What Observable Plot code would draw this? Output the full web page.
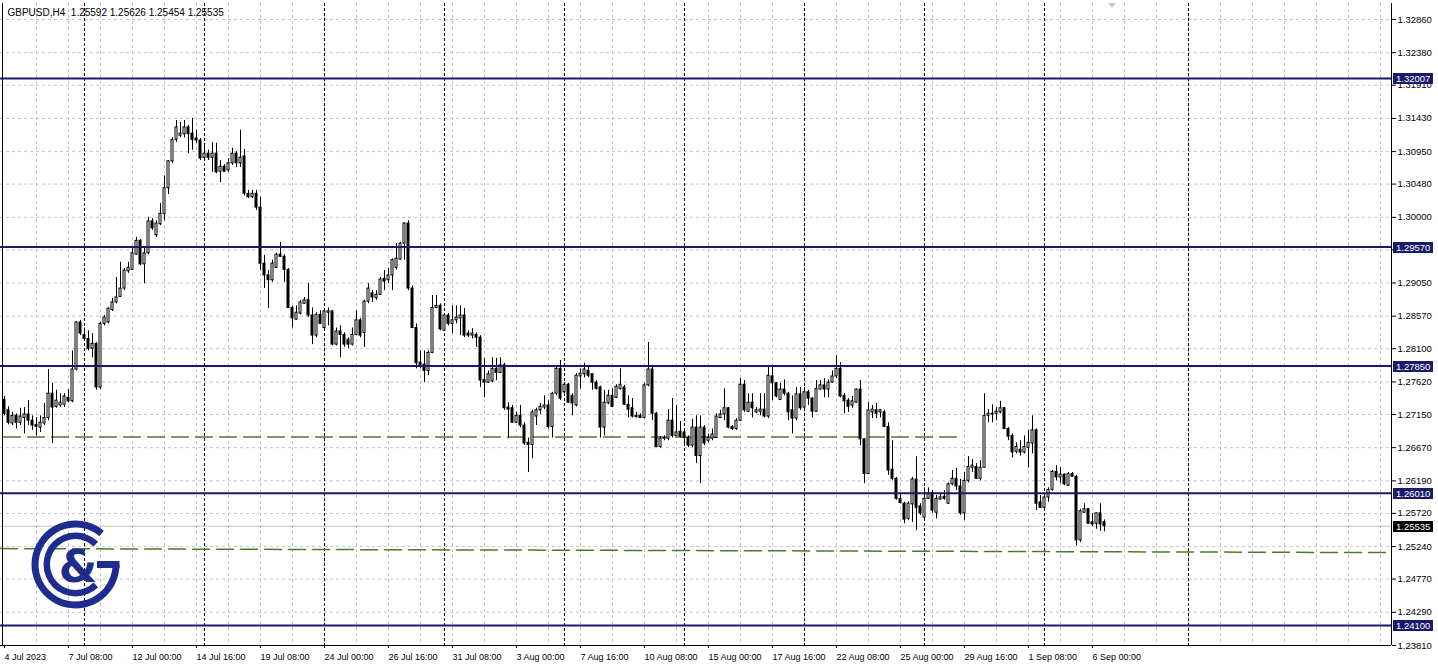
<!DOCTYPE html>
<html><head><meta charset="utf-8">
<script src="https://cdn.jsdelivr.net/npm/d3@7"></script>
<script src="https://cdn.jsdelivr.net/npm/@observablehq/plot@0.6"></script>
<style>
html,body{margin:0;padding:0;background:#fff;}
#chart{width:1438px;height:669px;overflow:hidden;}
</style></head><body><div id="chart"></div>
<script>
const symbolTitle = "GBPUSD,H4  1.25592 1.25626 1.25454 1.25535";

const open = [1.2736,1.2721,1.2702,1.2713,1.2703,1.2710,1.2715,1.2706,1.2700,1.2696,1.2702,1.2710,1.2745,1.2726,1.2728,1.2729,1.2739,1.2734,1.2780,1.2848,
1.2830,1.2824,1.2810,1.2817,1.2754,1.2846,1.2848,1.2866,1.2877,1.2885,1.2897,1.2922,1.2924,1.2946,1.2966,1.2932,1.2948,1.2994,1.2974,1.2990,
1.3005,1.3042,1.3081,1.3112,1.3118,1.3120,1.3130,1.3121,1.3114,1.3111,1.3086,1.3092,1.3086,1.3092,1.3066,1.3073,1.3068,1.3078,1.3092,1.3078,
1.3088,1.3034,1.3029,1.3034,1.3014,1.2933,1.2916,1.2909,1.2927,1.2946,1.2943,1.2924,1.2869,1.2852,1.2861,1.2875,1.2880,1.2858,1.2829,1.2859,
1.2840,1.2862,1.2864,1.2816,1.2835,1.2830,1.2823,1.2816,1.2830,1.2851,1.2833,1.2878,1.2890,1.2883,1.2888,1.2911,1.2909,1.2916,1.2927,1.2939,
1.2962,1.2991,1.2897,1.2840,1.2790,1.2787,1.2778,1.2804,1.2869,1.2872,1.2836,1.2858,1.2846,1.2851,1.2854,1.2858,1.2832,1.2829,1.2830,1.2826,
1.2765,1.2761,1.2763,1.2781,1.2775,1.2786,1.2725,1.2724,1.2703,1.2713,1.2699,1.2674,1.2671,1.2712,1.2721,1.2725,1.2728,1.2697,1.2745,1.2781,
1.2747,1.2758,1.2742,1.2728,1.2770,1.2773,1.2778,1.2773,1.2761,1.2754,1.2696,1.2731,1.2742,1.2739,1.2752,1.2754,1.2729,1.2724,1.2713,1.2713,
1.2710,1.2757,1.2780,1.2716,1.2668,1.2680,1.2680,1.2706,1.2684,1.2690,1.2689,1.2681,1.2670,1.2696,1.2655,1.2696,1.2677,1.2680,1.2681,1.2710,
1.2715,1.2724,1.2697,1.2694,1.2706,1.2758,1.2719,1.2732,1.2718,1.2719,1.2722,1.2712,1.2770,1.2760,1.2736,1.2751,1.2745,1.2721,1.2709,1.2744,
1.2725,1.2747,1.2738,1.2719,1.2751,1.2757,1.2751,1.2761,1.2770,1.2781,1.2742,1.2735,1.2728,1.2732,1.2751,1.2679,1.2629,1.2718,1.2721,1.2718,
1.2718,1.2697,1.2635,1.2622,1.2593,1.2586,1.2564,1.2585,1.2621,1.2582,1.2566,1.2593,1.2601,1.2573,1.2592,1.2596,1.2586,1.2614,1.2622,1.2611,
1.2572,1.2619,1.2638,1.2639,1.2622,1.2638,1.2713,1.2716,1.2716,1.2718,1.2724,1.2694,1.2684,1.2661,1.2664,1.2660,1.2667,1.2673,1.2692,1.2588,
1.2580,1.2595,1.2606,1.2632,1.2624,1.2628,1.2612,1.2629,1.2625,1.2533,1.2573,1.2578,1.2559,1.2557,1.2572,1.25592];

const high = [1.2741,1.2726,1.2718,1.2716,1.2724,1.2725,1.2735,1.2713,1.2710,1.2713,1.2731,1.2780,1.2760,1.2750,1.2745,1.2745,1.2751,1.2807,1.2849,1.2851,
1.2840,1.2836,1.2832,1.2819,1.2848,1.2858,1.2869,1.2883,1.2913,1.2935,1.2926,1.2935,1.2956,1.2971,1.2968,1.2956,1.3000,1.2998,1.2995,1.3020,
1.3060,1.3082,1.3115,1.3140,1.3137,1.3140,1.3133,1.3143,1.3126,1.3114,1.3107,1.3097,1.3108,1.3107,1.3082,1.3076,1.3085,1.3100,1.3095,1.3126,
1.3098,1.3039,1.3039,1.3039,1.3029,1.2945,1.2923,1.2938,1.2948,1.2964,1.2946,1.2926,1.2871,1.2872,1.2880,1.2884,1.2904,1.2869,1.2862,1.2865,
1.2868,1.2869,1.2865,1.2840,1.2843,1.2833,1.2826,1.2840,1.2865,1.2854,1.2880,1.2904,1.2894,1.2894,1.2913,1.2923,1.2926,1.2940,1.2962,1.2964,
1.2992,1.2995,1.2901,1.2846,1.2807,1.2807,1.2807,1.2887,1.2887,1.2875,1.2861,1.2861,1.2872,1.2872,1.2872,1.2868,1.2836,1.2839,1.2833,1.2829,
1.2796,1.2778,1.2797,1.2796,1.2797,1.2789,1.2732,1.2728,1.2718,1.2728,1.2703,1.2681,1.2721,1.2724,1.2731,1.2742,1.2735,1.2747,1.2783,1.2793,
1.2761,1.2760,1.2745,1.2774,1.2781,1.2789,1.2786,1.2774,1.2764,1.2756,1.2750,1.2750,1.2752,1.2758,1.2781,1.2757,1.2742,1.2738,1.2718,1.2716,
1.2760,1.2819,1.2783,1.2718,1.2683,1.2684,1.2722,1.2738,1.2728,1.2705,1.2692,1.2684,1.2708,1.2713,1.2713,1.2699,1.2687,1.2694,1.2716,1.2721,
1.2752,1.2725,1.2699,1.2709,1.2767,1.2764,1.2745,1.2745,1.2725,1.2745,1.2745,1.2783,1.2786,1.2761,1.2760,1.2765,1.2747,1.2742,1.2754,1.2754,
1.2754,1.2750,1.2739,1.2764,1.2764,1.2767,1.2765,1.2778,1.2800,1.2790,1.2745,1.2738,1.2741,1.2752,1.2764,1.2680,1.2732,1.2728,1.2731,1.2722,
1.2721,1.2703,1.2677,1.2624,1.2601,1.2588,1.2589,1.2624,1.2654,1.2586,1.2609,1.2609,1.2605,1.2598,1.2601,1.2605,1.2616,1.2634,1.2637,1.2621,
1.2631,1.2654,1.2650,1.2644,1.2648,1.2745,1.2722,1.2729,1.2725,1.2734,1.2725,1.2696,1.2687,1.2674,1.2677,1.2684,1.2692,1.2713,1.2694,1.2598,
1.2601,1.2609,1.2634,1.2641,1.2638,1.2629,1.2631,1.2631,1.2627,1.2578,1.2586,1.2579,1.2572,1.2573,1.2586,1.25626];

const low = [1.2713,1.2700,1.2699,1.2694,1.2699,1.2687,1.2699,1.2692,1.2684,1.2689,1.2699,1.2706,1.2673,1.2724,1.2725,1.2725,1.2732,1.2732,1.2778,1.2829,
1.2822,1.2807,1.2797,1.2750,1.2751,1.2843,1.2846,1.2864,1.2875,1.2884,1.2894,1.2919,1.2923,1.2945,1.2930,1.2904,1.2946,1.2981,1.2971,1.2988,
1.2995,1.3033,1.3078,1.3108,1.3115,1.3115,1.3092,1.3097,1.3107,1.3082,1.3084,1.3082,1.3065,1.3063,1.3050,1.3065,1.3065,1.3075,1.3072,1.3072,
1.3031,1.3027,1.3027,1.3010,1.2923,1.2897,1.2868,1.2906,1.2926,1.2942,1.2906,1.2868,1.2840,1.2851,1.2859,1.2874,1.2855,1.2816,1.2826,1.2845,
1.2839,1.2843,1.2814,1.2814,1.2797,1.2812,1.2810,1.2814,1.2829,1.2826,1.2812,1.2875,1.2877,1.2880,1.2887,1.2894,1.2904,1.2894,1.2924,1.2938,
1.2938,1.2894,1.2839,1.2781,1.2781,1.2761,1.2771,1.2803,1.2868,1.2836,1.2835,1.2843,1.2832,1.2846,1.2829,1.2826,1.2826,1.2824,1.2812,1.2754,
1.2739,1.2760,1.2761,1.2764,1.2774,1.2721,1.2680,1.2702,1.2702,1.2696,1.2670,1.2631,1.2651,1.2699,1.2715,1.2722,1.2694,1.2681,1.2742,1.2735,
1.2745,1.2731,1.2713,1.2726,1.2752,1.2768,1.2768,1.2750,1.2750,1.2681,1.2684,1.2729,1.2725,1.2738,1.2750,1.2728,1.2710,1.2710,1.2710,1.2709,
1.2709,1.2755,1.2706,1.2667,1.2666,1.2677,1.2677,1.2681,1.2683,1.2681,1.2670,1.2667,1.2667,1.2644,1.2615,1.2670,1.2674,1.2677,1.2680,1.2709,
1.2706,1.2694,1.2692,1.2692,1.2705,1.2718,1.2718,1.2710,1.2716,1.2713,1.2710,1.2709,1.2735,1.2739,1.2735,1.2742,1.2706,1.2687,1.2706,1.2721,
1.2724,1.2728,1.2710,1.2718,1.2750,1.2739,1.2739,1.2760,1.2767,1.2739,1.2716,1.2718,1.2724,1.2731,1.2670,1.2615,1.2628,1.2709,1.2709,1.2710,
1.2696,1.2627,1.2619,1.2591,1.2586,1.2557,1.2562,1.2559,1.2547,1.2569,1.2562,1.2592,1.2572,1.2564,1.2591,1.2591,1.2585,1.2612,1.2605,1.2569,
1.2562,1.2616,1.2631,1.2621,1.2619,1.2637,1.2703,1.2703,1.2706,1.2716,1.2693,1.2677,1.2652,1.2658,1.2655,1.2658,1.2638,1.2658,1.2576,1.2579,
1.2576,1.2588,1.2604,1.2619,1.2615,1.2612,1.2611,1.2624,1.2525,1.2530,1.2572,1.2556,1.2553,1.2549,1.2546,1.25454];

const close = [1.2716,1.2703,1.2713,1.2703,1.2712,1.2715,1.2706,1.2699,1.2697,1.2703,1.2710,1.2745,1.2725,1.2735,1.2732,1.2741,1.2734,1.2780,1.2848,1.2832,
1.2824,1.2810,1.2817,1.2754,1.2846,1.2855,1.2868,1.2877,1.2884,1.2897,1.2923,1.2927,1.2948,1.2966,1.2932,1.2948,1.2994,1.2984,1.2991,1.3005,
1.3042,1.3081,1.3112,1.3130,1.3121,1.3130,1.3120,1.3112,1.3111,1.3085,1.3092,1.3086,1.3092,1.3065,1.3073,1.3066,1.3078,1.3092,1.3078,1.3086,
1.3034,1.3029,1.3034,1.3014,1.2933,1.2916,1.2909,1.2933,1.2946,1.2943,1.2924,1.2869,1.2854,1.2862,1.2877,1.2880,1.2858,1.2829,1.2859,1.2846,
1.2864,1.2864,1.2816,1.2835,1.2830,1.2816,1.2816,1.2830,1.2851,1.2829,1.2878,1.2897,1.2884,1.2888,1.2910,1.2907,1.2916,1.2938,1.2940,1.2962,
1.2991,1.2897,1.2840,1.2789,1.2786,1.2778,1.2804,1.2869,1.2872,1.2838,1.2858,1.2846,1.2851,1.2855,1.2858,1.2829,1.2829,1.2832,1.2826,1.2764,
1.2761,1.2773,1.2781,1.2775,1.2786,1.2724,1.2722,1.2703,1.2713,1.2699,1.2673,1.2671,1.2718,1.2721,1.2726,1.2728,1.2697,1.2745,1.2781,1.2738,
1.2758,1.2732,1.2731,1.2771,1.2774,1.2780,1.2771,1.2761,1.2752,1.2696,1.2732,1.2742,1.2726,1.2755,1.2758,1.2729,1.2722,1.2712,1.2711,1.2710,
1.2757,1.2780,1.2716,1.2668,1.2680,1.2681,1.2706,1.2684,1.2689,1.2683,1.2681,1.2670,1.2696,1.2655,1.2696,1.2673,1.2681,1.2686,1.2712,1.2715,
1.2724,1.2696,1.2694,1.2706,1.2758,1.2721,1.2732,1.2724,1.2721,1.2722,1.2712,1.2771,1.2760,1.2741,1.2751,1.2745,1.2718,1.2709,1.2744,1.2724,
1.2747,1.2738,1.2719,1.2752,1.2757,1.2751,1.2761,1.2770,1.2781,1.2741,1.2734,1.2726,1.2734,1.2751,1.2679,1.2629,1.2721,1.2722,1.2716,1.2721,
1.2697,1.2634,1.2622,1.2593,1.2587,1.2563,1.2586,1.2621,1.2580,1.2572,1.2593,1.2601,1.2576,1.2593,1.2595,1.2593,1.2614,1.2622,1.2611,1.2572,
1.2619,1.2639,1.2641,1.2622,1.2638,1.2713,1.2716,1.2715,1.2719,1.2724,1.2694,1.2683,1.2660,1.2668,1.2660,1.2668,1.2674,1.2692,1.2586,1.2580,
1.2595,1.2606,1.2632,1.2624,1.2628,1.2614,1.2629,1.2625,1.2533,1.2575,1.2578,1.2557,1.2556,1.2572,1.2556,1.25535];

const priceTicks = [1.32860,1.32380,1.31910,1.31430,1.30950,1.30480,1.30000,1.29530,1.29050,1.28570,
  1.28100,1.27620,1.27150,1.26670,1.26190,1.25720,1.25240,1.24770,1.24290,1.23810];
const hiddenTickLabels = [1.29530];
const timeLabels = ["4 Jul 2023","7 Jul 08:00","12 Jul 00:00","14 Jul 16:00","19 Jul 08:00","24 Jul 00:00",
  "26 Jul 16:00","31 Jul 08:00","3 Aug 00:00","7 Aug 16:00","10 Aug 08:00","15 Aug 00:00","17 Aug 16:00",
  "22 Aug 08:00","25 Aug 00:00","29 Aug 16:00","1 Sep 08:00","6 Sep 00:00"];
const timeLabelBars = [0,16,32,48,64,80,96,112,128,144,160,176,192,208,224,240,256,272];
const weekSeparatorBars = [20,50,80,110,140,170,200,230,260,296];
const levelPrices = [1.32007,1.29570,1.27850,1.26010,1.24100];
const levelLabels = ["1.32007","1.29570","1.27850","1.26010","1.24100"];
const bidPrice = 1.25535;
const bidLabel = "1.25535";
const greenLine1Bars = [-0.25, 238.25];
const greenLine1Prices = [1.26824, 1.26824];
const greenLine2Bars = [-1, 346.75];
const greenLine2Prices = [1.25211, 1.25153];

const bars = open.map((o, i) => ({i, open: o, high: high[i], low: low[i], close: close[i]}));
const labelByBar = new Map(timeLabelBars.map((b, k) => [b, timeLabels[k]]));
const gridBars = d3.range(8, 347, 8);
const NAVY = "#1a1a6b";
const LOGO = "#1f2c8f";
const FONT = "Liberation Sans, Arial, sans-serif";

const chart = Plot.plot({
  width: 1438, height: 669,
  marginLeft: 0, marginRight: 47, marginTop: 3, marginBottom: 24,
  x: {type: "linear", domain: [-1, 346.75], label: null},
  y: {type: "linear", domain: [1.23810, 1.33091], label: null},
  style: {fontFamily: FONT, fontSize: "9.5px", background: "#fff", color: "#000", overflow: "visible"},
  marks: [
    Plot.ruleY(priceTicks, {stroke: "#c4c4c4", strokeDasharray: "3,3"}),
    Plot.ruleX(gridBars, {stroke: "#c4c4c4", strokeDasharray: "3,3"}),
    Plot.ruleX(weekSeparatorBars, {stroke: "#000", strokeDasharray: "3,2"}),
    Plot.ruleY([bidPrice], {stroke: "#c0c0c0"}),
    Plot.line(greenLine1Bars.map((b, k) => ({b, p: greenLine1Prices[k]})), {x: "b", y: "p", stroke: "#4d7a26", strokeDasharray: "17,7"}),
    Plot.line(greenLine2Bars.map((b, k) => ({b, p: greenLine2Prices[k]})), {x: "b", y: "p", stroke: "#4d7a26", strokeDasharray: "17,7"}),
    Plot.ruleX(bars, {x: "i", y1: "low", y2: "high", stroke: "#000"}),
    Plot.rect(bars, {x1: d => d.i - 0.25, x2: d => d.i + 0.25, y1: "open", y2: "close",
      fill: d => d.close >= d.open ? "#fff" : "#000", stroke: "#000"}),
    Plot.ruleY(levelPrices, {stroke: NAVY, strokeWidth: 2}),
    Plot.ruleX([-0.5], {stroke: "#000"}),
    Plot.ruleX([346.75], {stroke: "#000"}),
    Plot.ruleY([1.23810], {stroke: "#000", x1: -1, x2: 346.75}),
    Plot.axisY({anchor: "right", ticks: priceTicks,
      tickFormat: d => hiddenTickLabels.includes(d) ? "" : d.toFixed(5),
      tickSize: 4, tickPadding: 2, fontSize: 9.5, label: null}),
    Plot.axisX({anchor: "bottom", ticks: timeLabelBars, tickFormat: d => labelByBar.get(d), tickSize: 3, tickPadding: 5, textAnchor: "start", fontSize: 9, label: null}),
    (index, scales, values, dims) => {
      const g = d3.create("svg:g").attr("font-family", FONT).attr("font-size", 9.5).attr("text-anchor", "start");
      const xr = dims.width - dims.marginRight;
      const box = (p, txt, fill) => {
        const y = Math.round(scales.y(p));
        g.append("rect").attr("x", xr + 2).attr("y", y - 5).attr("width", 40).attr("height", 11).attr("fill", fill);
        g.append("text").attr("x", xr + 5).attr("y", y + 0.5).attr("dy", "0.35em").attr("text-anchor", "start").attr("fill", "#fff").text(txt);
      };
      levelPrices.forEach((p, k) => box(p, levelLabels[k], NAVY));
      box(bidPrice, bidLabel, "#000");
      const sx = scales.x(277);
      g.append("path").attr("d", `M${sx - 4},3 L${sx + 4},3 L${sx},8 Z`).attr("fill", "#c8c8c8");
      return g.node();
    },
    Plot.text([symbolTitle], {frameAnchor: "top-left", dx: 7, dy: 9, textAnchor: "start", lineAnchor: "middle", fontSize: 10, fill: "#000"}),
    (index, scales, values, dims) => {
      const cx = 75.5, cy = 564.5;
      const g = d3.create("svg:g").attr("transform", `translate(${cx},${cy})`).attr("fill", LOGO);
      const deg = Math.PI / 180;
      g.append("path").attr("d", d3.arc()({innerRadius: 37, outerRadius: 44, startAngle: 90 * deg, endAngle: 400 * deg}));
      g.append("path").attr("d", d3.arc()({innerRadius: 25.5, outerRadius: 32, startAngle: 135 * deg, endAngle: 405 * deg}));
      g.append("rect").attr("x", 21.5).attr("y", -3.5).attr("width", 22.5).attr("height", 7);
      g.append("text").attr("x", 2.5).attr("y", 2).attr("dy", "0.35em").attr("text-anchor", "middle")
        .attr("font-family", "DejaVu Sans, sans-serif").attr("font-weight", "bold").attr("font-size", 44).text("&");
      return g.node();
    }
  ]
});
document.getElementById("chart").appendChild(chart);
</script></body></html>
